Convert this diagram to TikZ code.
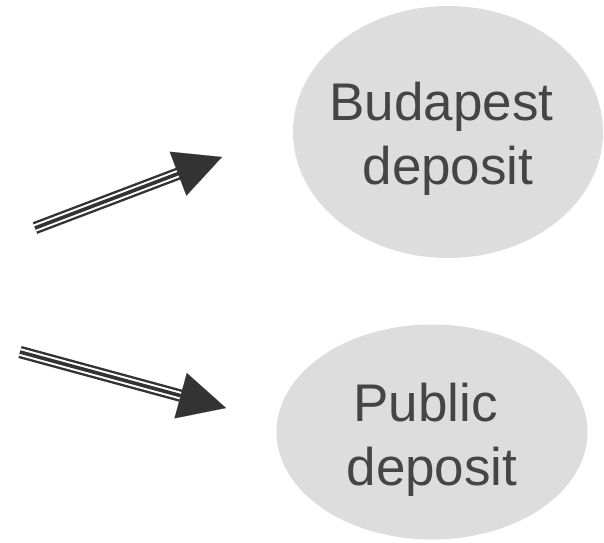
\documentclass[tikz,border=0pt]{standalone}
\usepackage{fontspec}
\setmainfont{Liberation Sans}
\usetikzlibrary{shapes.geometric, arrows.meta, calc}

\definecolor{depositfill}{HTML}{DDDDDD}
\definecolor{depositText}{HTML}{454545}
\definecolor{arrowgray}{HTML}{333333}

\begin{document}
\begin{tikzpicture}[
    x=1pt, y=-1pt,
    deposit/.style = {ellipse, fill=depositfill, draw=none, inner sep=0pt},
    deposittext/.style = {text=depositText, align=center, inner sep=0pt, yshift=-7pt,
        font=\fontsize{53}{64}\selectfont},
    tripleshaft/.style = {draw=arrowgray, line width=3.6pt,
        preaction={draw=white, line width=7.6pt,
        preaction={draw=arrowgray, line width=12.4pt}}},
    bighead/.style = {draw=arrowgray, line width=0.1pt,
        -{Triangle[length=47pt, width=47pt]}}
]
\useasboundingbox (0,0) rectangle (604,542);

\node [deposit, minimum width=310pt, minimum height=252pt,
    label={[deposittext]center:{Budapest\hspace*{13pt}\\deposit}}] (budapest) at (448,132) {};
\node [deposit, minimum width=311pt, minimum height=215pt,
    label={[deposittext, yshift=-1pt]center:{Public\hspace*{13pt}\\deposit}}] (public) at (432,432) {};

% arrows pointing at the deposits
\coordinate (a1start) at (35,228);
\coordinate (a1tip) at (222,157);
\coordinate (a1base) at ($(a1tip)!47pt!(a1start)$);
\coordinate (a2start) at (20,352);
\coordinate (a2tip) at (226,408);
\coordinate (a2base) at ($(a2tip)!48pt!(a2start)$);

\draw[tripleshaft] (a1start) -- ($(a1base)!-1pt!(a1start)$);
\draw[bighead] (a1base) -- (a1tip);
\draw[tripleshaft] (a2start) -- ($(a2base)!-1pt!(a2start)$);
\draw[bighead] (a2base) -- (a2tip);

\end{tikzpicture}
\end{document}
